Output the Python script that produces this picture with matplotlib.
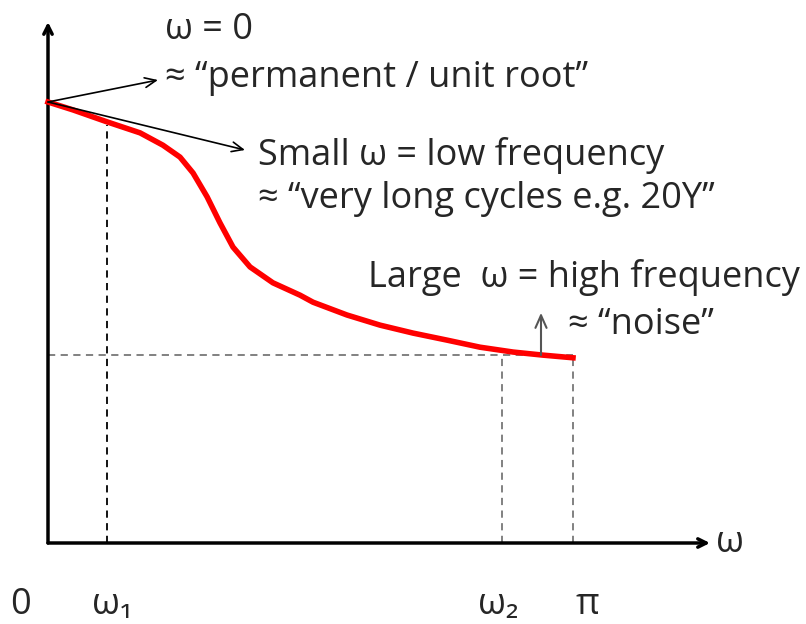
import numpy as np
import matplotlib
matplotlib.use("Agg")
import matplotlib.pyplot as plt

plt.rcParams['font.family'] = ['Open Sans', 'DejaVu Sans']

# spectrum shape (x in radians, y relative to S(0))
freq = [0.0, 0.150, 0.353, 0.551, 0.688, 0.790, 0.868, 0.952, 1.029, 1.107, 1.209,
        1.346, 1.508, 1.586, 1.789, 1.987, 2.184, 2.388, 2.585, 2.783, 2.962, np.pi]
power = [1.000, 0.982, 0.955, 0.930, 0.902, 0.875, 0.839, 0.785, 0.726, 0.671, 0.626,
         0.590, 0.562, 0.546, 0.517, 0.494, 0.476, 0.460, 0.444, 0.433, 0.426, 0.420]

w1 = 0.353
w2 = 2.717
floor = 0.426
tick_pos = [0.0, w1, w2, np.pi]
tick_labels = ['0', 'ω₁', 'ω₂', 'π']

txt = '#262626'
fs = 26

fig = plt.figure(figsize=(8.06, 6.24), dpi=100)
ax = fig.add_axes([0, 0, 1, 1])
sx = 525 / np.pi
sy = 441
ax.set_xlim(-48 / sx, 758 / sx)
ax.set_ylim(-81 / sy, 543 / sy)
ax.axis('off')

# axes with arrows
axis_arrow = dict(arrowstyle='->,head_length=0.6,head_width=0.3', lw=2.5, color='black', shrinkA=0, shrinkB=0)
ax.annotate('', xy=(0, 521 / sy), xytext=(0, 0), arrowprops=axis_arrow)
ax.annotate('', xy=(662 / sx, 0), xytext=(0, 0), arrowprops=axis_arrow)
ax.text(668 / sx, 0.0, 'ω', fontsize=fs, color=txt, va='center', ha='left')

# dashed guides
dash = (0, (4, 3))
ax.plot([0, np.pi], [floor, floor], ls=dash, color='#777777', lw=1.3)
ax.plot([w1, w1], [0, 0.948], ls=dash, color='black', lw=1.3)
ax.plot([w2, w2], [0, floor], ls=dash, color='#777777', lw=1.3)
ax.plot([np.pi, np.pi], [0, 0.42], ls=dash, color='#777777', lw=1.3)

# curve
ax.plot(freq, power, color='#ff0000', lw=4, solid_joinstyle='round', zorder=3)

# annotation arrows
thin = dict(arrowstyle='->,head_length=0.8,head_width=0.35', lw=1.2, color='black', shrinkA=0, shrinkB=0)
ax.annotate('', xy=(110 / sx, 463 / sy), xytext=(0, 1.0), arrowprops=thin)
ax.annotate('', xy=(197 / sx, 393 / sy), xytext=(0, 1.0), arrowprops=thin)
ax.annotate('', xy=(493 / sx, 0.522), xytext=(493 / sx, floor),
            arrowprops=dict(arrowstyle='->,head_length=0.9,head_width=0.4', lw=1.5, color='#555555', shrinkA=0, shrinkB=0))

# labels
ax.text(117 / sx, 513 / sy, 'ω = 0', fontsize=fs, color=txt, va='center')
ax.text(117 / sx, 465 / sy, '≈ “permanent / unit root”', fontsize=fs, color=txt, va='center')
ax.text(210 / sx, 388 / sy, 'Small ω = low frequency', fontsize=fs, color=txt, va='center')
ax.text(210 / sx, 344 / sy, '≈ “very long cycles e.g. 20Y”', fontsize=fs, color=txt, va='center')
ax.text(320 / sx, 266 / sy, 'Large  ω = high frequency', fontsize=fs, color=txt, va='center')
ax.text(520 / sx, 218 / sy, '≈ “noise”', fontsize=fs, color=txt, va='center')

# tick labels under the axis
offs = [-38, -15, -24, 2]
for x, lab, o in zip(tick_pos, tick_labels, offs):
    ax.text(x + o / sx, -62 / sy, lab, fontsize=fs, color=txt, va='center', ha='left')

fig.savefig('out.png', dpi=100)
